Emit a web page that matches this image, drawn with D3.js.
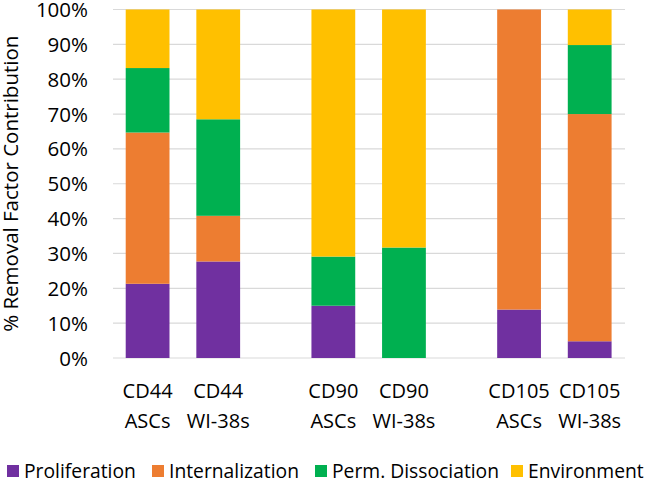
<!DOCTYPE html>
<html>
<head>
<meta charset="utf-8">
<script src="https://cdn.jsdelivr.net/npm/d3@7"></script>
<style>
  body { margin: 0; background: #fff; }
  text { font-family: "Open Sans", sans-serif; fill: #000; }
</style>
</head>
<body>
<div id="chart"></div>
<script>
const categories = [
  ["CD44", "ASCs"], ["CD44", "WI-38s"],
  ["CD90", "ASCs"], ["CD90", "WI-38s"],
  ["CD105", "ASCs"], ["CD105", "WI-38s"]
];
const groups = [0, 0, 1, 1, 2, 2];
const seriesNames = ["Proliferation", "Internalization", "Perm. Dissociation", "Environment"];
const proliferation = [21.3, 27.7, 15.0, 0, 13.9, 4.8];
const internalization = [43.4, 13.1, 0, 0, 86.1, 65.2];
const permDissociation = [18.5, 27.7, 14.1, 31.7, 0, 19.8];
const environment = [16.8, 31.5, 70.9, 68.3, 0, 10.2];
const yTicks = [0, 10, 20, 30, 40, 50, 60, 70, 80, 90, 100];
const colors = ["#7030A0", "#ED7D31", "#00B050", "#FFC000"];

const width = 646, height = 480;
const margin = {top: 9.5, right: 21, bottom: 122, left: 113};

const svg = d3.select("#chart").append("svg")
  .attr("width", width)
  .attr("height", height);

const rows = categories.map((c, i) => ({
  i,
  pos: i + groups[i] * 0.63,
  Proliferation: proliferation[i],
  Internalization: internalization[i],
  "Perm. Dissociation": permDissociation[i],
  Environment: environment[i]
}));

const stack = d3.stack().keys(seriesNames)(rows);

const x = d3.scaleLinear()
  .domain([-0.49, 5 + 2 * 0.63 + 0.5])
  .range([margin.left, width - margin.right]);
const barW = x(0.62) - x(0);

const y = d3.scaleLinear()
  .domain([0, 100])
  .range([height - margin.bottom, margin.top]);

// gridlines
svg.append("g")
  .selectAll("line")
  .data(yTicks)
  .join("line")
  .attr("x1", margin.left)
  .attr("x2", width - margin.right)
  .attr("y1", d => y(d))
  .attr("y2", d => y(d))
  .attr("stroke", "#d9d9d9")
  .attr("stroke-width", 1.2);

// y tick labels
svg.append("g")
  .selectAll("text")
  .data(yTicks)
  .join("text")
  .attr("x", 88)
  .attr("y", d => y(d))
  .attr("dy", "0.37em")
  .attr("text-anchor", "end")
  .attr("font-size", 20.5)
  .text(d => d + "%");

// bars
svg.append("g")
  .selectAll("g")
  .data(stack)
  .join("g")
  .attr("fill", (d, k) => colors[k])
  .selectAll("rect")
  .data(d => d)
  .join("rect")
  .attr("x", d => x(d.data.pos) - barW / 2)
  .attr("width", barW)
  .attr("y", d => y(d[1]))
  .attr("height", d => y(d[0]) - y(d[1]));

// x labels
const xl = svg.append("g")
  .selectAll("text")
  .data(rows)
  .join("text")
  .attr("x", d => x(d.pos))
  .attr("text-anchor", "middle")
  .attr("font-size", 20);
xl.append("tspan").attr("x", d => x(d.pos)).attr("y", 398).text(d => categories[d.i][0]);
xl.append("tspan").attr("x", d => x(d.pos)).attr("y", 428).text(d => categories[d.i][1]);

// y title
svg.append("text")
  .attr("transform", `translate(18,${(y(0) + y(100)) / 2}) rotate(-90)`)
  .attr("text-anchor", "middle")
  .attr("font-size", 20.5)
  .text("% Removal Factor Contribution");

// legend
const legendX = [7, 152, 315, 511];
const lg = svg.append("g")
  .selectAll("g")
  .data(seriesNames)
  .join("g")
  .attr("transform", (d, k) => `translate(${legendX[k]},465)`);
lg.append("rect")
  .attr("width", 12)
  .attr("height", 12)
  .attr("fill", (d, k) => colors[k]);
lg.append("text")
  .attr("x", 17)
  .attr("y", 12.5)
  .attr("font-size", 19.3)
  .text(d => d);
</script>
</body>
</html>
